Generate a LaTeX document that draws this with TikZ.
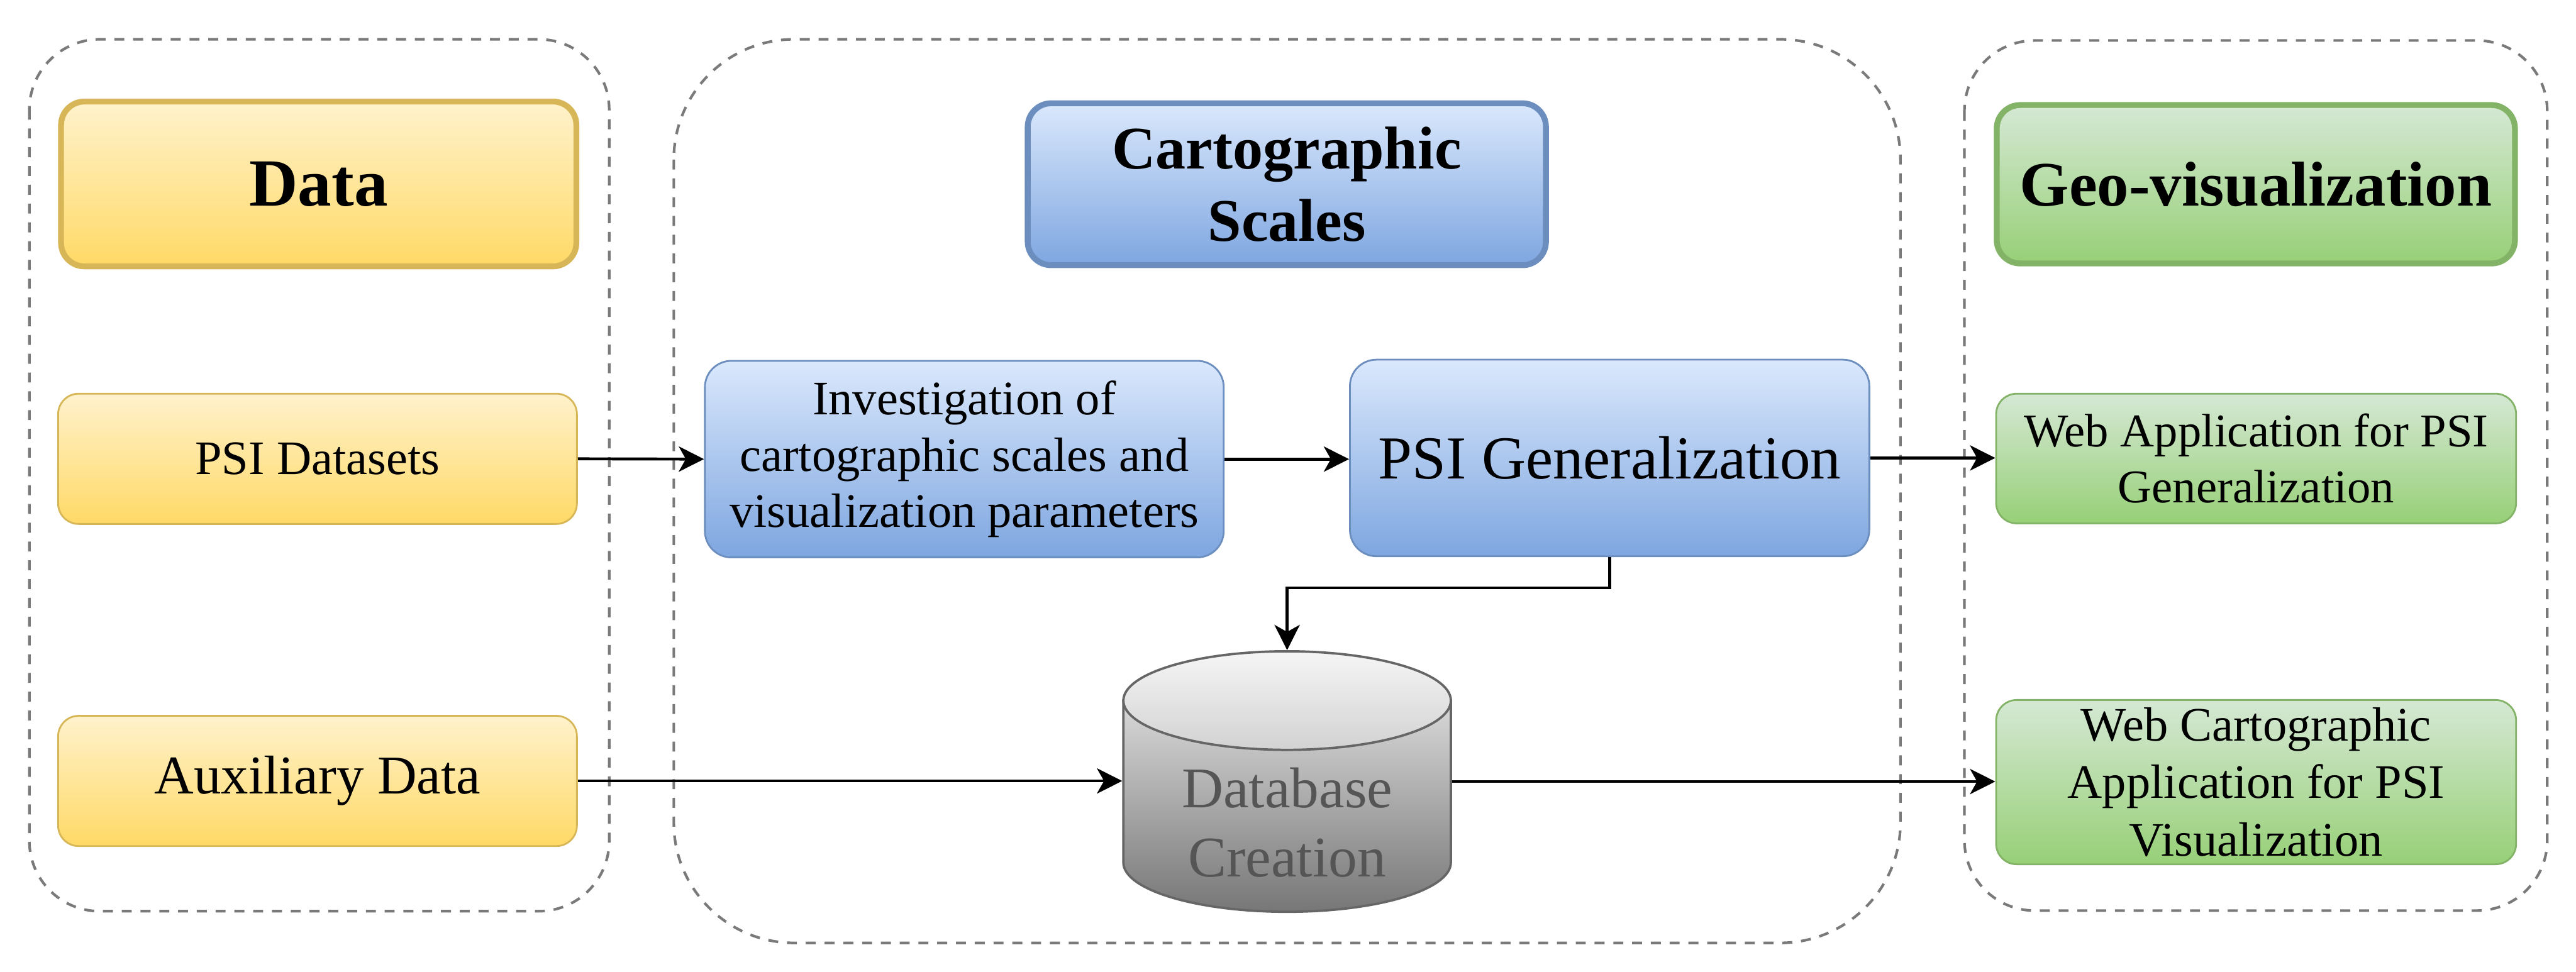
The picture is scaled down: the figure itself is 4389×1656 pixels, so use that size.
\documentclass[tikz,border=0pt]{standalone}
\usepackage{fontspec}
\setmainfont{Liberation Serif}
\usetikzlibrary{arrows.meta}
\definecolor{ytop}{HTML}{FFF2CC}
\definecolor{ybot}{HTML}{FFD966}
\definecolor{ystroke}{HTML}{D6B656}
\definecolor{btop}{HTML}{DAE8FC}
\definecolor{bbot}{HTML}{7EA6E0}
\definecolor{bstroke}{HTML}{6C8EBF}
\definecolor{gtop}{HTML}{D5E8D4}
\definecolor{gbot}{HTML}{97D077}
\definecolor{gstroke}{HTML}{82B366}
\definecolor{contgray}{HTML}{7A7A7A}
\definecolor{cylstroke}{HTML}{666666}
\definecolor{dbtext}{HTML}{555555}
\begin{document}
\begin{tikzpicture}[x=0.1pt,y=-0.1pt,
  box/.style={rounded corners=3.5pt, inner sep=0pt, align=center, line width=0.3pt, text=black},
  headbox/.style={box, line width=1pt, rounded corners=4pt},
  ybox/.style={draw=ystroke, top color=ytop, bottom color=ybot},
  bbox/.style={draw=bstroke, top color=btop, bottom color=bbot},
  gbox/.style={draw=gstroke, top color=gtop, bottom color=gbot},
  container/.style={draw=contgray, line width=0.45pt, dash pattern=on 1.7pt off 1.5pt},
  arr/.style={-{Stealth[length=4.3pt,width=4.3pt,inset=1.2pt]}, line width=0.5pt, black}
]
\useasboundingbox (0,0) rectangle (4389,1656);

% containers
\draw[container, rounded corners=12pt] (50,67) rectangle (1038,1553);
\draw[container, rounded corners=20.5pt] (1148,67) rectangle (3238,1607);
\draw[container, rounded corners=12pt] (3347,69) rectangle (4340,1552);

% left column
\node[headbox, ybox, minimum width=87.8pt, minimum height=28.1pt,
      font=\fontsize{11.5}{13.8}\selectfont\bfseries] (data) at (543,313.5) {Data};
\node[box, ybox, minimum width=88.4pt, minimum height=22.2pt,
      font=\fontsize{8.2}{9.8}\selectfont] (psids) at (541,782) {PSI Datasets};
\node[box, ybox, minimum width=88.4pt, minimum height=22.2pt,
      font=\fontsize{9.3}{11}\selectfont] (aux) at (541,1331) {Auxiliary Data};

% middle column
\node[headbox, bbox, minimum width=88.3pt, minimum height=27.6pt,
      font=\fontsize{10.3}{12.4}\selectfont\bfseries] (carto) at (2192.5,314) {Cartographic\\Scales};
\node[box, bbox, rounded corners=4.5pt, minimum width=88.4pt, minimum height=33.5pt,
      font=\fontsize{8.2}{9.6}\selectfont] (inv) at (1643,782.5)
      {Investigation of\\cartographic scales and\\visualization parameters};
\node[box, bbox, rounded corners=4.5pt, minimum width=88.5pt, minimum height=33.5pt,
      font=\fontsize{10.4}{12.4}\selectfont] (psigen) at (2742.5,780.5) {PSI Generalization};

% cylinder
\shade[top color=gray!30, bottom color=gray!93!black!100, draw=cylstroke, line width=0.4pt]
  (1914,1194) -- (1914,1470) arc[start angle=180, end angle=0, x radius=279, y radius=84]
  -- (2472,1194) -- cycle;
\shade[top color=gray!8, bottom color=gray!35, draw=cylstroke, line width=0.4pt]
  (2193,1194) ellipse [x radius=279, y radius=84];
\node[inner sep=0pt, minimum width=55.8pt, minimum height=44.4pt] (db) at (2193,1332) {};
\node[inner sep=0pt, align=center, text=dbtext, font=\fontsize{9.8}{11.8}\selectfont] (dblabel) at (2193,1402) {Database\\Creation};

% right column
\node[headbox, gbox, minimum width=88.3pt, minimum height=27pt,
      font=\fontsize{10.8}{13}\selectfont\bfseries] (geo) at (3843.5,314) {Geo-visualization};
\node[box, gbox, minimum width=88.6pt, minimum height=22.1pt,
      font=\fontsize{8}{9.5}\selectfont] (webapp) at (3844,781.5) {Web Application for PSI\\Generalization};
\node[box, gbox, minimum width=88.6pt, minimum height=28pt,
      font=\fontsize{8.2}{9.8}\selectfont] (webcarto) at (3844,1333) {Web Cartographic\\Application for PSI\\Visualization};

% connectors
\draw[arr] (psids.east) -- (inv.west);
\draw[arr] (inv.east) -- (inv.east -| psigen.west);
\draw[arr] (psigen.east) -- (psigen.east -| webapp.west);
\draw[arr] (psigen.south) -- (psigen.south |- 0,1002) -| (db.north);
\draw[arr] (aux.east) -- (aux.east -| db.west);
\draw[arr] (db.east) -- (db.east -| webcarto.west);
\end{tikzpicture}
\end{document}
